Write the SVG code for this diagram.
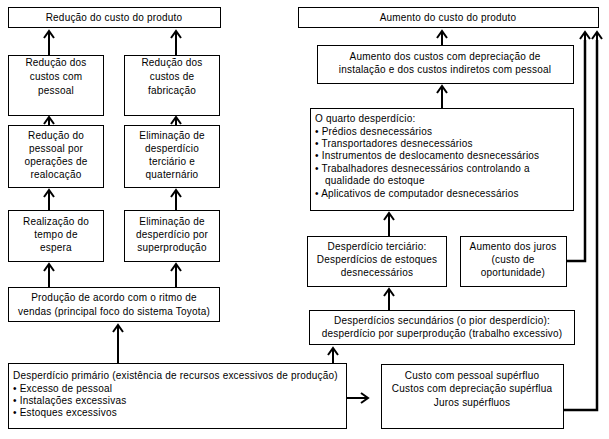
<svg xmlns="http://www.w3.org/2000/svg" width="609" height="439" viewBox="0 0 609 439">
<style>
rect{fill:#fff;stroke:#000;stroke-width:1}
text{font-family:"Liberation Sans",Arial,sans-serif;font-size:10px;fill:#000;letter-spacing:0.2px}
.c{text-anchor:middle}
.a{fill:none;stroke:#000;stroke-width:2;marker-end:url(#ah)}
.l{fill:none;stroke:#000;stroke-width:2.5}
</style>
<defs>
<marker id="ah" markerUnits="userSpaceOnUse" markerWidth="12" markerHeight="14" refX="0" refY="0" orient="auto" viewBox="-9 -7 12 14">
<path d="M-7,-5 L0,0 L-7,5" fill="none" stroke="#000" stroke-width="2"/>
</marker>
</defs>
<rect x="0" y="0" width="609" height="439" style="stroke:none"/>

<g id="connectors">
<line class="a" x1="49" y1="55" x2="49" y2="31"/>
<line class="a" x1="176" y1="55" x2="176" y2="31"/>
<line class="a" x1="49" y1="125" x2="49" y2="117"/>
<line class="a" x1="176" y1="125" x2="176" y2="117"/>
<line class="a" x1="49" y1="210" x2="49" y2="190"/>
<line class="a" x1="176" y1="210" x2="176" y2="190"/>
<line class="a" x1="49" y1="287" x2="49" y2="264"/>
<line class="a" x1="176" y1="287" x2="176" y2="264"/>
<line class="a" x1="118" y1="363" x2="118" y2="325"/>
<line class="a" x1="442" y1="45" x2="442" y2="31"/>
<line class="a" x1="442" y1="108" x2="442" y2="86"/>
<line class="a" x1="389" y1="236" x2="389" y2="213"/>
<line class="a" x1="389" y1="310" x2="389" y2="289"/>
<line class="a" x1="333" y1="364" x2="333" y2="348"/>
<line class="a" x1="347" y1="398" x2="368" y2="398"/>
<polyline class="l" points="567,261 585,261 585,40"/>
<line class="a" x1="585" y1="42" x2="585" y2="32"/>
<polyline class="l" points="563,410 597,410 597,40"/>
<line class="a" x1="597" y1="42" x2="597" y2="32"/>
</g>

<g id="n1"><rect x="8.5" y="7.5" width="212" height="20"/><text class="c" x="114" y="21">Redução do custo do produto</text></g>
<g id="n2"><rect x="8.5" y="55.5" width="95" height="60"/><text class="c" x="56" y="66">Redução dos</text><text class="c" x="56" y="80">custos com</text><text class="c" x="56" y="94">pessoal</text></g>
<g id="n3"><rect x="124.5" y="55.5" width="95" height="60"/><text class="c" x="172" y="66">Redução dos</text><text class="c" x="172" y="80">custos de</text><text class="c" x="172" y="94">fabricação</text></g>
<g id="n4"><rect x="8.5" y="125.5" width="95" height="62"/><text class="c" x="56" y="139">Redução do</text><text class="c" x="56" y="152">pessoal por</text><text class="c" x="56" y="165">operações de</text><text class="c" x="56" y="178">realocação</text></g>
<g id="n5"><rect x="124.5" y="125.5" width="95" height="62"/><text class="c" x="172" y="139">Eliminação de</text><text class="c" x="172" y="152">desperdício</text><text class="c" x="172" y="165">terciário e</text><text class="c" x="172" y="178">quaternário</text></g>
<g id="n6"><rect x="8.5" y="210.5" width="95" height="51"/><text class="c" x="56" y="225">Realização do</text><text class="c" x="56" y="238">tempo de</text><text class="c" x="56" y="251">espera</text></g>
<g id="n7"><rect x="124.5" y="210.5" width="95" height="51"/><text class="c" x="172" y="225">Eliminação de</text><text class="c" x="172" y="238">desperdício por</text><text class="c" x="172" y="251">superprodução</text></g>
<g id="n8"><rect x="8.5" y="287.5" width="211" height="34"/><text class="c" x="114" y="301">Produção de acordo com o ritmo de</text><text class="c" x="114" y="315">vendas (principal foco do sistema Toyota)</text></g>
<g id="n9"><rect x="8.5" y="363.5" width="338" height="65"/>
<text x="13" y="379">Desperdício primário (existência de recursos excessivos de produção)</text>
<text x="13" y="392">•  Excesso de pessoal</text>
<text x="13" y="404">•  Instalações excessivas</text>
<text x="13" y="416">•  Estoques excessivos</text></g>

<g id="n10"><rect x="298.5" y="7.5" width="300" height="20"/><text class="c" x="448" y="21">Aumento do custo do produto</text></g>
<g id="n11"><rect x="317.5" y="45.5" width="256" height="38"/><text class="c" x="445" y="60">Aumento dos custos com depreciação de</text><text class="c" x="445" y="73">instalação e dos custos indiretos com pessoal</text></g>
<g id="n12"><rect x="310.5" y="108.5" width="263" height="102"/>
<text x="315" y="122">O quarto desperdício:</text>
<text x="315" y="135">•  Prédios desnecessários</text>
<text x="315" y="147">•  Transportadores desnecessários</text>
<text x="315" y="159">•  Instrumentos de deslocamento desnecessários</text>
<text x="315" y="172">•  Trabalhadores desnecessários controlando a</text>
<text x="325" y="184">qualidade do estoque</text>
<text x="315" y="197">•  Aplicativos de computador desnecessários</text></g>
<g id="n13"><rect x="307.5" y="236.5" width="139" height="50"/><text class="c" x="377" y="250">Desperdício terciário:</text><text class="c" x="377" y="263">Desperdícios de estoques</text><text class="c" x="377" y="276">desnecessários</text></g>
<g id="n14"><rect x="460.5" y="236.5" width="106" height="50"/><text class="c" x="513" y="250">Aumento dos juros</text><text class="c" x="513" y="263">(custo de</text><text class="c" x="513" y="276">oportunidade)</text></g>
<g id="n15"><rect x="309.5" y="310.5" width="265" height="34"/><text class="c" x="442" y="324">Desperdícios secundários (o pior desperdício):</text><text class="c" x="442" y="337">desperdício por superprodução (trabalho excessivo)</text></g>
<g id="n16"><rect x="381.5" y="364.5" width="182" height="64"/><text class="c" x="472" y="379">Custo com pessoal supérfluo</text><text class="c" x="472" y="392">Custos com depreciação supérflua</text><text class="c" x="472" y="406">Juros supérfluos</text></g>
</svg>
